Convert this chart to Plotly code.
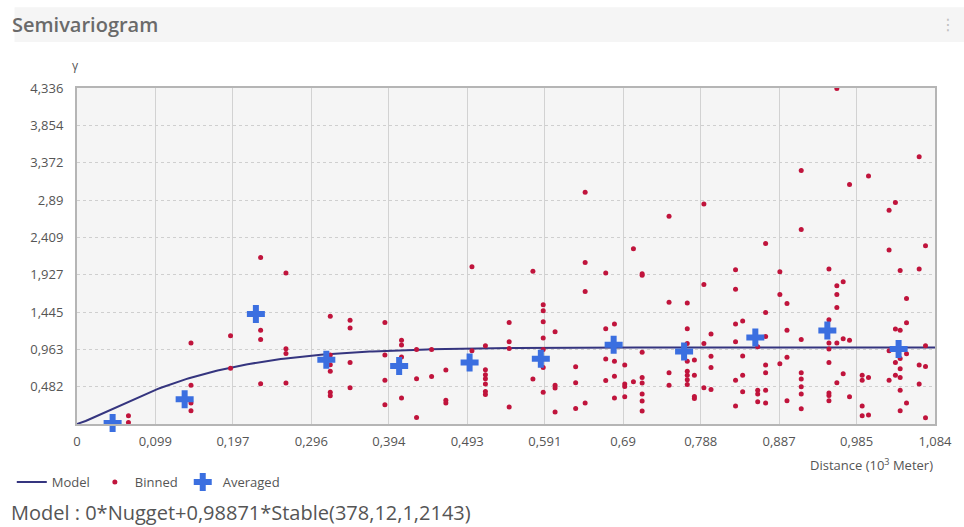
import numpy as np
import plotly.graph_objects as go

# ---- data ----
x_ticks = [0, 0.099, 0.197, 0.296, 0.394, 0.493, 0.591, 0.69, 0.788, 0.887, 0.985, 1.084]
x_labels = ["0", "0,099", "0,197", "0,296", "0,394", "0,493", "0,591", "0,69", "0,788", "0,887", "0,985", "1,084"]
y_ticks = [0.482, 0.963, 1.445, 1.927, 2.409, 2.89, 3.372, 3.854, 4.336]
y_labels = ["0,482", "0,963", "1,445", "1,927", "2,409", "2,89", "3,372", "3,854", "4,336"]

binned_dist = [
    0.232, 0.264, 0.232, 0.232, 0.194, 0.144, 0.264, 0.264, 0.194, 0.144, 0.232, 0.264, 0.144, 0.144, 0.065, 0.065,
    0.499, 0.320, 0.345, 0.345, 0.389, 0.546, 0.410, 0.410, 0.516, 0.546, 0.546, 0.429, 0.448, 0.499, 0.320, 0.389,
    0.410, 0.320, 0.345, 0.320, 0.516, 0.516, 0.516, 0.516, 0.466, 0.448, 0.429, 0.389, 0.345, 0.320, 0.320, 0.516,
    0.516, 0.410, 0.466, 0.466, 0.389, 0.546, 0.429,
    0.642, 0.748, 0.792, 0.703, 0.642, 0.576, 0.668, 0.714, 0.714, 0.792, 0.832, 0.832, 0.642, 0.748, 0.771, 0.589,
    0.589, 0.589, 0.668, 0.679, 0.771, 0.832, 0.604, 0.589, 0.801, 0.832, 0.771, 0.792, 0.589, 0.714, 0.668, 0.679,
    0.780, 0.801, 0.692, 0.630, 0.589, 0.801, 0.771, 0.771, 0.771, 0.771, 0.771, 0.780, 0.679, 0.748, 0.748, 0.576,
    0.668, 0.714, 0.714, 0.703, 0.692, 0.692, 0.604, 0.604, 0.630, 0.792, 0.801, 0.589, 0.714, 0.780, 0.780, 0.679,
    0.692, 0.714, 0.642, 0.630, 0.604, 0.714, 0.832, 0.832,
    0.960, 1.064, 0.915, 1.000, 0.976, 1.034, 1.026, 0.915, 0.870, 1.072, 1.026, 0.888, 0.950, 1.040, 1.064, 0.968,
    0.960, 0.888, 0.960, 1.048, 0.897, 0.960, 0.870, 0.841, 0.950, 1.048, 1.034, 1.040, 0.897, 0.870, 0.915, 0.968,
    0.976, 0.950, 0.960, 0.860, 0.950, 1.072, 1.026, 1.048, 0.841, 0.897, 1.034, 1.040, 0.950, 0.888, 0.870, 1.064,
    1.072, 1.040, 0.870, 0.915, 0.968, 0.841, 0.992, 1.034, 1.000, 1.040, 0.915, 0.992, 1.026, 0.960, 1.064, 0.915,
    0.841, 0.860, 0.870, 1.040, 0.860, 0.915, 0.950, 0.950, 0.976, 0.860, 0.870, 0.897, 0.950, 1.048, 0.992, 0.915,
    1.040, 0.992, 1.000, 1.072,
]
binned_gamma = [
    2.15, 1.95, 1.21, 1.09, 1.14, 1.045, 0.97, 0.91, 0.72, 0.50, 0.52, 0.53, 0.27, 0.17, 0.107, 0.02,
    2.03, 1.39, 1.34, 1.24, 1.31, 1.31, 1.08, 1.02, 1.01, 1.06, 0.975, 0.96, 0.96, 0.945, 0.89, 0.89,
    0.865, 0.765, 0.795, 0.68, 0.70, 0.636, 0.585, 0.516, 0.697, 0.614, 0.585, 0.563, 0.468, 0.41, 0.365, 0.42,
    0.38, 0.335, 0.305, 0.27, 0.25, 0.22, 0.085,
    2.99, 2.68, 2.84, 2.26, 2.085, 1.97, 1.95, 1.94, 1.92, 1.80, 1.99, 1.74, 1.71, 1.57, 1.56, 1.54,
    1.46, 1.32, 1.23, 1.29, 1.23, 1.29, 1.19, 1.11, 1.16, 1.06, 1.04, 1.04, 0.96, 0.925, 0.84, 0.81,
    0.825, 0.875, 0.76, 0.74, 0.73, 0.73, 0.81, 0.68, 0.63, 0.57, 0.51, 0.63, 0.615, 0.66, 0.50, 0.58,
    0.56, 0.60, 0.53, 0.545, 0.515, 0.485, 0.50, 0.465, 0.533, 0.468, 0.446, 0.41, 0.387, 0.356, 0.33, 0.335,
    0.352, 0.297, 0.27, 0.20, 0.155, 0.168, 0.563, 0.232,
    4.33, 3.45, 3.27, 3.20, 3.09, 2.86, 2.76, 2.51, 2.33, 2.30, 2.245, 1.965, 2.00, 1.98, 2.00, 1.835,
    1.785, 1.67, 1.67, 1.62, 1.556, 1.505, 1.44, 1.33, 1.345, 1.307, 1.225, 1.21, 1.21, 1.13, 1.09, 1.10,
    1.08, 1.045, 1.045, 0.997, 0.968, 1.01, 0.946, 0.907, 0.877, 0.86, 0.795, 0.846, 0.795, 0.778, 0.76, 0.76,
    0.743, 0.714, 0.66, 0.66, 0.65, 0.63, 0.63, 0.63, 0.60, 0.60, 0.58, 0.563, 0.563, 0.533, 0.516, 0.48,
    0.417, 0.434, 0.434, 0.434, 0.387, 0.387, 0.40, 0.369, 0.352, 0.288, 0.27, 0.30, 0.30, 0.27, 0.232, 0.197,
    0.17, 0.107, 0.116, 0.081,
]

avg_dist = [0.045, 0.136, 0.226, 0.315, 0.407, 0.496, 0.586, 0.678, 0.767, 0.857, 0.948, 1.038]
avg_gamma = [0.013, 0.32, 1.42, 0.83, 0.75, 0.795, 0.843, 1.023, 0.937, 1.117, 1.208, 0.968]

# Stable model parameters (distance in 10^3 m)
nugget = 0.0
partial_sill = 0.98871
model_range = 0.37812
model_shape = 1.2143

model_dist = np.linspace(0, 1.084, 300)
model_gamma = nugget + partial_sill * (1 - np.exp(-3 * (model_dist / model_range) ** model_shape))

# ---- figure ----
FONT = "Open Sans"
fig = go.Figure()
fig.add_trace(go.Scatter(x=model_dist, y=model_gamma, mode="lines", name="Model",
                         line=dict(color="#35357f", width=2), cliponaxis=False))
fig.add_trace(go.Scatter(x=binned_dist, y=binned_gamma, mode="markers", name="Binned",
                         marker=dict(color="#c0143c", size=5), cliponaxis=False))
fig.add_trace(go.Scatter(x=avg_dist, y=avg_gamma, mode="markers", name="Averaged",
                         marker=dict(color="#3b6fe0", size=15, symbol="cross"), cliponaxis=False))

fig.update_layout(
    width=964, height=527,
    margin=dict(l=73, r=26, t=88, b=103),
    paper_bgcolor="white",
    plot_bgcolor="#f5f5f5",
    font=dict(family=FONT, size=13, color="#555555"),
    showlegend=True,
    legend=dict(orientation="h", x=-0.076, xanchor="left", y=-0.128, yanchor="top",
                font=dict(size=13, color="#555555"), bgcolor="rgba(0,0,0,0)",
                itemwidth=30, tracegroupgap=0),
    xaxis=dict(range=[0, 1.084], tickvals=x_ticks, ticktext=x_labels, showgrid=True,
               gridcolor="#d2d2d2", gridwidth=1, zeroline=False, showline=True, linecolor="#b5b5b5",
               linewidth=2, mirror=True, ticks="", ticklabelstandoff=4,
               tickfont=dict(size=13, color="#555555")),
    yaxis=dict(range=[0, 4.336], tickvals=y_ticks, ticktext=y_labels, showgrid=True,
               gridcolor="#cfcfcf", gridwidth=1, griddash="dot", zeroline=False, showline=True,
               linecolor="#b5b5b5", linewidth=2, mirror=True, ticks="", ticklabelstandoff=9,
               tickfont=dict(size=13, color="#555555")),
    shapes=[
        dict(type="rect", xref="paper", yref="paper", x0=-0.0728, x1=1.04, y0=1.137, y1=1.24,
             fillcolor="#f5f5f5", line=dict(width=0), layer="below"),
    ],
    annotations=[
        dict(text="Semivariogram", xref="paper", yref="paper", x=-0.0785, y=1.19,
             xanchor="left", yanchor="middle", showarrow=False,
             font=dict(size=20, color="#6a6a6a", family=FONT, weight=600)),
        dict(text="⋮", xref="paper", yref="paper", x=1.015, y=1.19, xanchor="center", yanchor="middle",
             showarrow=False, font=dict(size=16, color="#c0c0c0", family="DejaVu Sans")),
        dict(text="γ", xref="paper", yref="paper", x=-0.002, y=1.035, xanchor="center", yanchor="bottom",
             showarrow=False, font=dict(size=12, color="#555555")),
        dict(text="Distance (10<sup>3</sup> Meter)", xref="paper", yref="paper", x=1.0, y=-0.085,
             xanchor="right", yanchor="top", showarrow=False, font=dict(size=13, color="#555555")),
        dict(text="Model : 0*Nugget+0,98871*Stable(378,12,1,2143)", xref="paper", yref="paper",
             x=-0.079, y=-0.262, xanchor="left", yanchor="middle", showarrow=False,
             font=dict(size=20, color="#555555", family=FONT)),
    ],
)

fig.write_html("out.html")
